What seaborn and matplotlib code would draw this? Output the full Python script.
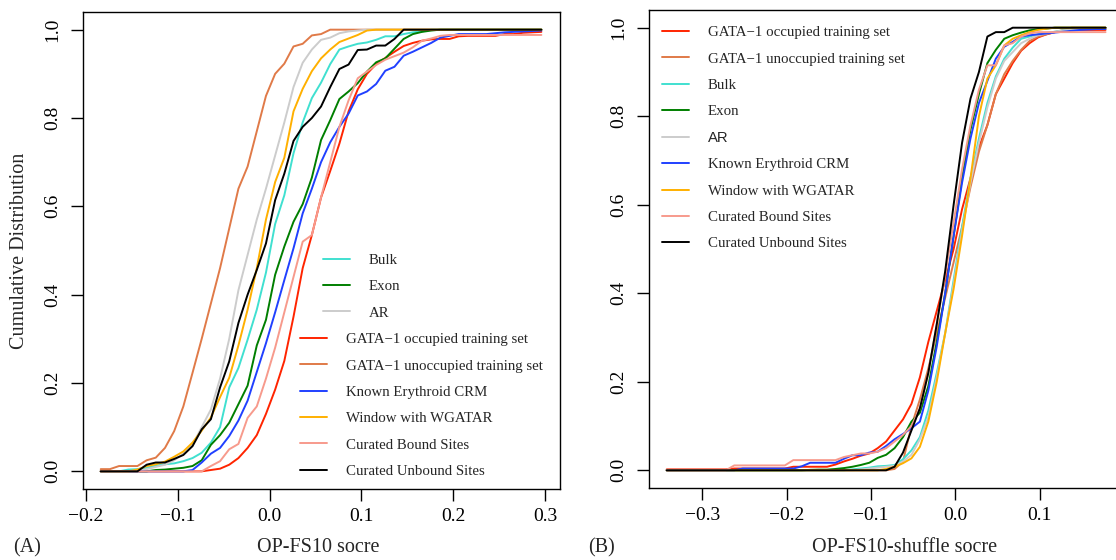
import matplotlib
matplotlib.use("Agg")
import matplotlib.pyplot as plt
import numpy as np
import pandas as pd
import seaborn as sns

# ---------------- data ----------------
set_labels = ["GATA−1 occupied training set", "GATA−1 unoccupied training set", "Bulk", "Exon", "AR",
              "Known Erythroid CRM", "Window with WGATAR", "Curated Bound Sites", "Curated Unbound Sites"]
set_colors = ["#FF2400", "#E07A48", "#40E0D0", "#007F00", "#CCCCCC",
              "#2040FF", "#FFB000", "#F79A8C", "#000000"]

# panel A: OP-FS10 score
x_a = [-0.184, -0.174, -0.164, -0.154, -0.144, -0.134, -0.124, -0.114, -0.104, -0.094,
       -0.084, -0.074, -0.064, -0.054, -0.044, -0.034, -0.024, -0.014, -0.004, 0.006,
       0.016, 0.026, 0.036, 0.046, 0.056, 0.066, 0.076, 0.086, 0.096, 0.106,
       0.116, 0.126, 0.136, 0.146, 0.156, 0.166, 0.176, 0.186, 0.196, 0.206,
       0.216, 0.226, 0.236, 0.246, 0.256, 0.266, 0.276, 0.286, 0.296]
occ_a = [0, 0, 0, 0, 0, 0, 0, 0, 0, 0, 0, 0, .003, .006, .015, .03, .053, .082, .13, .185,
         .25, .35, .46, .535, .62, .68, .742, .815, .865, .90, .922, .936, .95, .963, .97, .975,
         .978, .979, .979, .985, .986, .986, .986, .986, .99, .99, .993, .994, .995]
unocc_a = [.005, .005, .012, .012, .012, .025, .031, .053, .091, .147, .223, .30, .38, .46, .55,
           .64, .69, .77, .85, .90, .923, .962, .968, .987, .99, 1, 1, 1, 1, 1, 1, 1, 1, 1, 1,
           1, 1, 1, 1, 1, 1, 1, 1, 1, 1, 1, 1, 1, 1]
bulk_a = [0, 0, 0, .004, .005, .008, .013, .016, .018, .023, .03, .042, .065, .10, .19, .234,
          .298, .366, .45, .56, .625, .72, .79, .845, .88, .922, .955, .962, .968, .971, .977,
          .985, .985, .99, .994, .996, 1, 1, 1, 1, 1, 1, 1, 1, 1, 1, 1, 1, 1]
exon_a = [0, 0, 0, 0, 0, 0, .003, .004, .006, .008, .012, .025, .06, .082, .11, .152, .194,
          .285, .343, .445, .509, .565, .605, .665, .75, .795, .843, .86, .879, .905, .926,
          .935, .957, .979, .99, .995, .998, 1, 1, 1, 1, 1, 1, 1, 1, 1, 1, 1, 1]
ar_a = [0, 0, 0, 0, 0, .005, .01, .015, .025, .04, .06, .10, .14, .21, .30, .41, .49, .57,
        .64, .715, .79, .87, .925, .955, .977, .982, .992, .996, .998, 1, 1, 1, 1, 1, 1, 1,
        1, 1, 1, 1, 1, 1, 1, 1, 1, 1, 1, 1, 1]
known_a = [0, 0, 0, 0, 0, 0, 0, 0, 0, 0, .003, .02, .04, .053, .08, .115, .16, .225, .29,
           .36, .433, .505, .584, .64, .70, .745, .78, .81, .851, .86, .877, .907, .916, .941,
           .95, .96, .97, .982, .986, .99, .99, .99, .99, .992, .994, .995, .996, .997, .998]
window_a = [0, 0, 0, 0, .004, .012, .016, .022, .033, .045, .065, .092, .122, .168, .212,
            .285, .366, .46, .57, .655, .71, .815, .866, .906, .935, .955, .972, .98, .988,
            .998, 1, 1, 1, 1, 1, 1, 1, 1, 1, 1, 1, 1, 1, 1, 1, 1, 1, 1, 1]
bound_a = [0, 0, 0, 0, 0, 0, 0, 0, 0, 0, 0, 0, .012, .023, .05, .062, .121, .147, .21, .28,
           .36, .44, .52, .535, .62, .70, .78, .84, .89, .905, .92, .932, .94, .948, .96,
           .975, .98, .986, .988, .988, .988, .988, .988, .988, .988, .988, .988, .988, .988]
unbound_a = [0, 0, 0, 0, 0, .015, .02, .02, .028, .037, .057, .095, .118, .19, .249, .336,
             .40, .456, .516, .614, .674, .748, .78, .80, .826, .87, .911, .921, .954, .955,
             .964, .964, .979, 1, 1, 1, 1, 1, 1, 1, 1, 1, 1, 1, 1, 1, 1, 1, 1]

# panel B: OP-FS10-shuffle score
x_b = [-0.342, -0.332, -0.322, -0.312, -0.302, -0.292, -0.282, -0.272, -0.262, -0.252,
       -0.242, -0.232, -0.222, -0.212, -0.202, -0.192, -0.182, -0.172, -0.162, -0.152,
       -0.142, -0.132, -0.122, -0.112, -0.102, -0.092, -0.082, -0.072, -0.062, -0.052,
       -0.042, -0.032, -0.022, -0.012, -0.002, 0.008, 0.018, 0.028, 0.038, 0.048,
       0.058, 0.068, 0.078, 0.088, 0.098, 0.108, 0.118, 0.128, 0.138, 0.148,
       0.158, 0.168, 0.178]
occ_b = [.002, .002, .002, .002, .002, .002, .002, .002, .004, .004, .004, .004, .004, .004,
         .004, .008, .008, .008, .008, .008, .013, .02, .026, .033, .038, .05, .065, .09,
         .115, .15, .21, .29, .36, .43, .50, .59, .66, .73, .78, .85, .885, .92, .948, .965,
         .978, .985, .99, .993, .995, .995, .995, .995, .995]
unocc_b = [0, 0, 0, 0, 0, 0, 0, 0, 0, 0, 0, 0, 0, 0, 0, 0, 0, 0, 0, 0, 0, 0, 0, 0, 0, 0, 0,
           .003, .02, .10, .16, .23, .31, .39, .47, .55, .64, .72, .78, .85, .895, .925, .95,
           .97, .98, .985, .99, .995, 1, 1, 1, 1, 1]
bulk_b = [0, 0, 0, 0, 0, 0, 0, 0, 0, 0, 0, 0, 0, 0, 0, 0, 0, 0, 0, 0, 0, 0, .002, .004,
          .006, .009, .01, .012, .025, .045, .075, .135, .22, .31, .43, .55, .66, .75, .83,
          .89, .93, .955, .975, .98, .985, .988, .991, .994, .996, .998, .998, .998, .998]
exon_b = [0, 0, 0, 0, 0, 0, 0, 0, 0, 0, 0, 0, 0, 0, 0, 0, 0, .001, .0015, .0015, .003, .005,
          .008, .012, .017, .028, .035, .05, .075, .11, .13, .19, .29, .40, .53, .66, .77,
          .85, .92, .95, .975, .983, .989, .994, .997, .998, 1, 1, 1, 1, 1, 1, 1]
ar_b = [0, 0, 0, 0, 0, 0, 0, 0, 0, 0, 0, 0, 0, 0, 0, 0, 0, 0, 0, 0, 0, 0, 0, .002, .004,
        .006, .008, .01, .02, .035, .07, .12, .21, .31, .42, .54, .65, .74, .82, .885, .925,
        .945, .965, .975, .983, .987, .991, .994, .996, .997, .998, .998, .998]
known_b = [0, 0, 0, 0, 0, 0, 0, 0, 0, .004, .004, .004, .004, .004, .004, .004, .009, .017,
           .017, .017, .017, .026, .034, .034, .04, .042, .055, .07, .082, .095, .11, .18,
           .28, .40, .53, .65, .75, .83, .88, .93, .957, .968, .98, .983, .985, .987, .989,
           .991, .993, .995, .996, .997, .997]
window_b = [0, 0, 0, 0, 0, 0, 0, 0, 0, 0, 0, 0, 0, 0, 0, 0, 0, 0, 0, 0, 0, 0, 0, 0, 0, 0,
            .003, .008, .016, .027, .053, .11, .20, .31, .41, .53, .66, .80, .885, .915, .96,
            .975, .983, .99, .995, .998, 1, 1, 1, 1, 1, 1, 1]
bound_b = [0, 0, 0, 0, 0, 0, 0, 0, .011, .011, .011, .011, .011, .011, .011, .023, .023,
           .023, .023, .023, .023, .03, .034, .038, .038, .042, .05, .065, .08, .10, .14, .22,
           .33, .44, .56, .68, .78, .86, .915, .915, .96, .965, .98, .987, .99, .99, .99, .99,
           .99, .99, .99, .99, .99]
unbound_b = [0, 0, 0, 0, 0, 0, 0, 0, 0, 0, 0, 0, 0, 0, 0, 0, 0, 0, 0, 0, 0, 0, 0, 0, 0, 0, 0,
             .008, .04, .09, .14, .22, .33, .45, .60, .74, .84, .90, .98, .99, .99, 1, 1, 1,
             1, 1, 1, 1, 1, 1, 1, 1, 1]

xticks_a = [-0.2, -0.1, 0.0, 0.1, 0.2, 0.3]
xticklabels_a = ["−0.2", "−0.1", "0.0", "0.1", "0.2", "0.3"]
xticks_b = [-0.3, -0.2, -0.1, 0.0, 0.1]
xticklabels_b = ["−0.3", "−0.2", "−0.1", "0.0", "0.1"]
yticks = [0.0, 0.2, 0.4, 0.6, 0.8, 1.0]
yticklabels = ["0.0", "0.2", "0.4", "0.6", "0.8", "1.0"]

series_a = [occ_a, unocc_a, bulk_a, exon_a, ar_a, known_a, window_a, bound_a, unbound_a]
series_b = [occ_b, unocc_b, bulk_b, exon_b, ar_b, known_b, window_b, bound_b, unbound_b]


def long_frame(xs, series):
    rows = []
    for lab, ys in zip(set_labels, series):
        for xv, yv in zip(xs, ys):
            rows.append((xv, yv, lab))
    return pd.DataFrame(rows, columns=["x", "y", "set"])


df_a = long_frame(x_a, series_a)
df_b = long_frame(x_b, series_b)

# ---------------- style ----------------
sns.set_theme(style="white")
plt.rcParams["font.family"] = ["Liberation Serif", "DejaVu Serif"]
plt.rcParams["axes.unicode_minus"] = True

W, H = 1116, 560
fig = plt.figure(figsize=(W / 100, H / 100), dpi=100)
ax1 = fig.add_axes([83 / W, 1 - 489 / H, (560 - 83) / W, (489 - 12) / H])
ax2 = fig.add_axes([649 / W, 1 - 488 / H, (1157 - 649) / W, (488 - 10) / H])

palette = dict(zip(set_labels, set_colors))
for ax, df in [(ax1, df_a), (ax2, df_b)]:
    sns.lineplot(data=df, x="x", y="y", hue="set", hue_order=set_labels, palette=palette,
                 estimator=None, sort=False, linewidth=1.4, legend=False, ax=ax)
    ax.set_ylim(-0.04, 1.04)
    ax.set_yticks(yticks)
    ax.set_yticklabels(yticklabels, rotation=90, va="center")
    ax.set_xlabel("")
    ax.set_ylabel("")
    ax.tick_params(axis="both", which="major", direction="out", length=8.5, width=1.0,
                   colors="black", labelsize=14, bottom=True, left=True)
    ax.tick_params(axis="x", pad=5)
    ax.tick_params(axis="y", pad=7)
    for sp in ax.spines.values():
        sp.set_visible(True)
        sp.set_color("black")
        sp.set_linewidth(1.0)
    ax.grid(False)

ax1.set_xlim(-0.2033, 0.3163)
ax1.set_xticks(xticks_a)
ax1.set_xticklabels(xticklabels_a)
ax2.set_xlim(-0.363, 0.239)
ax2.set_xticks(xticks_b)
ax2.set_xticklabels(xticklabels_b)

# ---------------- legends ----------------
leg_kw = dict(loc="upper left", bbox_transform=fig.transFigure, frameon=False, fontsize=10.7,
              handlelength=1.82, handletextpad=1.28, labelspacing=0.87, borderpad=0,
              borderaxespad=0)

lines_a = ax1.get_lines()
h_a = {lab: ln for lab, ln in zip(set_labels, lines_a)}
top_labels = ["Bulk", "Exon", "AR"]
low_labels = [l for l in set_labels if l not in top_labels]
leg_top = ax1.legend([h_a[l] for l in top_labels], top_labels,
                     bbox_to_anchor=(323 / W, 1 - 253.5 / H), **leg_kw)
ax1.add_artist(leg_top)
ax1.legend([h_a[l] for l in low_labels], low_labels,
           bbox_to_anchor=(300 / W, 1 - 332.8 / H), **leg_kw)

lines_b = ax2.get_lines()
leg_b = ax2.legend(lines_b[:len(set_labels)], set_labels,
                   bbox_to_anchor=(661.5 / W, 1 - 25.8 / H), **leg_kw)
for t in leg_b.get_texts():
    if t.get_text() == "AR":
        t.set_fontfamily(["Liberation Sans", "DejaVu Sans"])

# ---------------- labels ----------------
fig.text(318 / W, 1 - 548 / H, "OP-FS10 socre", ha="center", va="center", fontsize=14.5)
fig.text(905 / W, 1 - 548 / H, "OP-FS10-shuffle socre", ha="center", va="center", fontsize=14.5)
fig.text(20 / W, 1 - 250.5 / H, "Cumulative Distribution", ha="center", va="center",
         rotation=90, fontsize=14.5)
fig.text(13 / W, 1 - 548 / H, "(A)", ha="left", va="center", fontsize=14.5)
fig.text(588 / W, 1 - 548 / H, "(B)", ha="left", va="center", fontsize=14.5)

fig.savefig("out.png", dpi=100)
